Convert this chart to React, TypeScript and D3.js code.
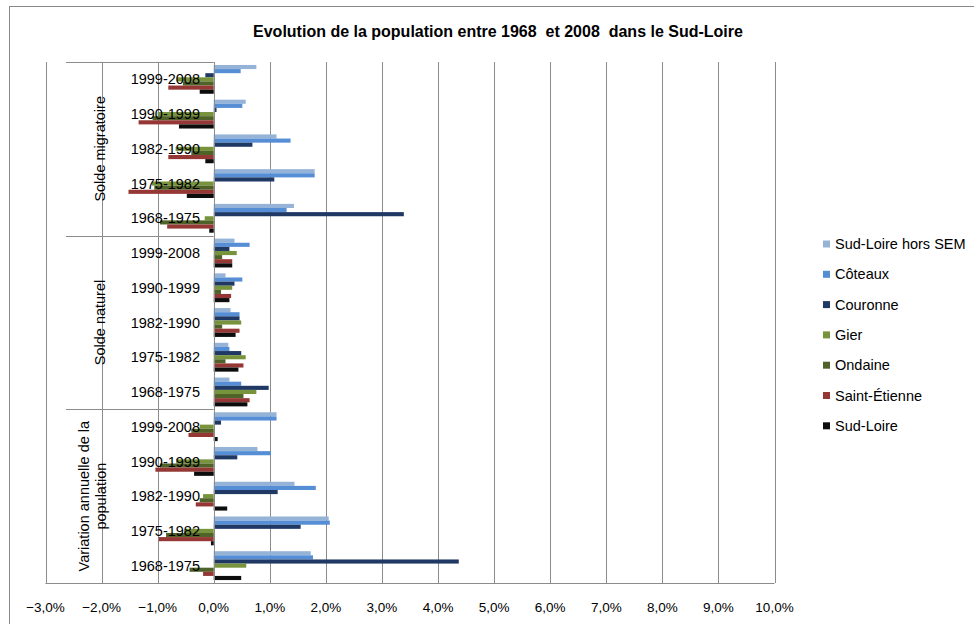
import React from 'react';
import * as d3 from 'd3';

const periods = ['1999-2008', '1990-1999', '1982-1990', '1975-1982', '1968-1975'];
const groups = ['Solde migratoire', 'Solde naturel', 'Variation annuelle de la population'];
const seriesNames = ['Sud-Loire hors SEM', 'Côteaux', 'Couronne', 'Gier', 'Ondaine', 'Saint-Étienne', 'Sud-Loire'];
const seriesColors = ['#95b3d7', '#558ed5', '#1f3864', '#77933c', '#4f6228', '#953735', '#0d0d0d'];

// values in %, per series: migratoire (5 periods), naturel (5), variation (5)
const horsSEM = [0.76, 0.57, 1.12, 1.8, 1.43, 0.37, 0.21, 0.3, 0.26, 0.28, 1.12, 0.78, 1.44, 2.05, 1.73];
const coteaux = [0.48, 0.51, 1.37, 1.8, 1.3, 0.64, 0.51, 0.46, 0.28, 0.49, 1.12, 1.02, 1.82, 2.07, 1.77];
const couronne = [-0.15, 0.05, 0.69, 1.08, 3.39, 0.28, 0.37, 0.46, 0.49, 0.98, 0.13, 0.42, 1.14, 1.55, 4.37];
const gier = [-0.66, -1.0, -0.68, -1.1, -0.16, 0.41, 0.33, 0.49, 0.57, 0.76, -0.25, -0.67, -0.19, -0.53, 0.58];
const ondaine = [-0.55, -1.09, -0.4, -1.06, -0.96, 0.15, 0.13, 0.15, 0.21, 0.53, -0.4, -0.96, -0.25, -0.85, -0.43];
const saintEtienne = [-0.81, -1.34, -0.81, -1.52, -0.83, 0.33, 0.31, 0.46, 0.53, 0.64, -0.45, -1.04, -0.32, -0.98, -0.19];
const sudLoire = [-0.25, -0.62, -0.15, -0.48, -0.08, 0.33, 0.28, 0.39, 0.44, 0.6, 0.07, -0.35, 0.24, -0.05, 0.49];

const seriesValues = [horsSEM, coteaux, couronne, gier, ondaine, saintEtienne, sudLoire];
const xTicks = d3.range(-3, 11, 1);

const W = 974;
const H = 624;
const font = '"Liberation Sans", Arial, sans-serif';

const App: React.FC = () => {
  const top = 62;
  const bottom = 583;

  const x = d3.scaleLinear().domain([-3, 10]).range([45.5, 774.5]);

  const catKeys = groups.flatMap((g) => periods.map((p) => `${g}|${p}`));
  const y = d3.scaleBand<string>().domain(catKeys).range([top, bottom]).paddingInner(0.17).paddingOuter(0.085);
  const ySeries = d3.scaleBand<string>().domain(seriesNames).range([0, y.bandwidth()]);

  const groupY = d3.scaleBand<string>().domain(groups).range([top, bottom]);
  const fmt = (v: number) => d3.format('.1f')(v).replace('.', ',') + '%';

  return (
    <svg width={W} height={H} style={{ position: 'absolute', left: 0, top: 0, background: '#fff' }}>
      {/* cadre */}
      <rect x={9.5} y={6.5} width={1200} height={800} fill="#fff" stroke="#8a8a8a" />

      <text
        x={498}
        y={37}
        textAnchor="middle"
        fontFamily={font}
        fontWeight="bold"
        fontSize={16}
        fill="#000"
        style={{ whiteSpace: 'pre' }}
      >
        {'Evolution de la population entre 1968  et 2008  dans le Sud-Loire'}
      </text>

      {/* grille */}
      {xTicks.map((t) => (
        <line key={t} x1={Math.round(x(t)) + 0.5} x2={Math.round(x(t)) + 0.5} y1={top} y2={bottom} stroke="#8c8c8c" />
      ))}
      {/* séparateurs de groupes */}
      {[top, groupY(groups[1])!, groupY(groups[2])!].map((yy, i) => (
        <line key={i} x1={66} x2={x(0)} y1={Math.round(yy) + 0.5} y2={Math.round(yy) + 0.5} stroke="#8c8c8c" />
      ))}

      {/* barres */}
      {seriesValues.map((vals, si) =>
        vals.map((v, ci) => {
          const y0 = y(catKeys[ci])! + ySeries(seriesNames[si])!;
          return (
            <rect
              key={`${si}-${ci}`}
              x={x(Math.min(0, v))}
              y={y0}
              width={Math.abs(x(v) - x(0))}
              height={ySeries.bandwidth()}
              fill={seriesColors[si]}
            />
          );
        })
      )}

      <line x1={x(-3)} x2={x(10)} y1={bottom + 0.5} y2={bottom + 0.5} stroke="#8c8c8c" />
      <line x1={Math.round(x(0)) + 0.5} x2={Math.round(x(0)) + 0.5} y1={top} y2={bottom} stroke="#8c8c8c" />

      {/* étiquettes de catégories */}
      {catKeys.map((k) => (
        <text
          key={k}
          x={200}
          y={y(k)! + y.bandwidth() / 2}
          dy="0.35em"
          textAnchor="end"
          fontFamily={font}
          fontSize={14.5}
          fill="#000"
        >
          {k.split('|')[1]}
        </text>
      ))}

      {/* étiquettes de groupes */}
      {groups.map((g) => {
        const cy = groupY(g)! + groupY.bandwidth() / 2;
        const lines = g === groups[2] ? ['Variation annuelle de la', 'population'] : [g];
        const x0 = lines.length > 1 ? 84 : 100;
        return lines.map((l, li) => (
          <text
            key={g + li}
            transform={`translate(${x0 + li * 17},${cy}) rotate(-90)`}
            dy="0.35em"
            textAnchor="middle"
            fontFamily={font}
            fontSize={14.5}
            fill="#000"
          >
            {l}
          </text>
        ));
      })}

      {/* axe des valeurs */}
      {xTicks.map((t) => (
        <text key={t} x={x(t)} y={607} dy="0.35em" textAnchor="middle" fontFamily={font} fontSize={13.5} fill="#000">
          {fmt(t)}
        </text>
      ))}

      {/* légende */}
      {seriesNames.map((n, i) => (
        <g key={n} transform={`translate(823,${244 + i * 30.3})`}>
          <rect x={0} y={-3.5} width={7} height={7} fill={seriesColors[i]} />
          <text x={12} dy="0.35em" fontFamily={font} fontSize={14.5} fill="#000">
            {n}
          </text>
        </g>
      ))}
    </svg>
  );
};

export default App;
